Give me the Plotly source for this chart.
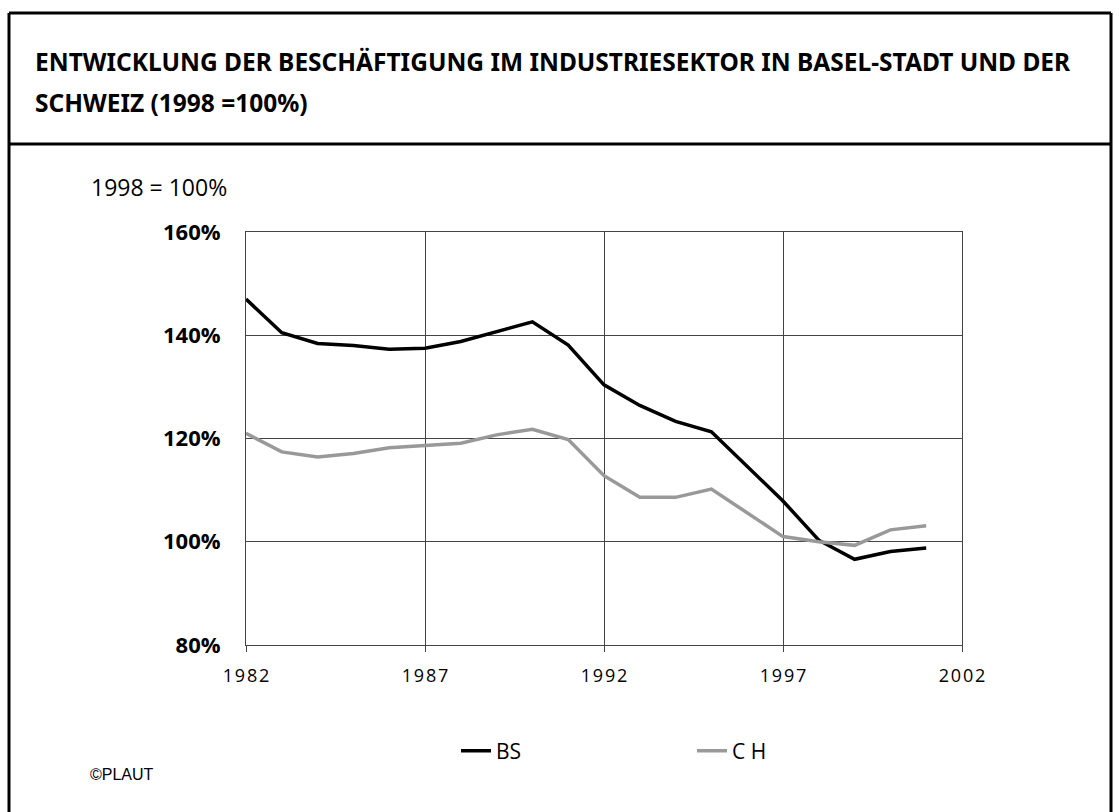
import plotly.graph_objects as go

years = list(range(1982, 2002))
bs = [147.0, 140.5, 138.4, 138.0, 137.3, 137.5, 138.8, 140.7, 142.6, 138.1,
      130.4, 126.4, 123.3, 121.3, 114.7, 107.9, 100.3, 96.6, 98.1, 98.8]
ch = [121.0, 117.4, 116.4, 117.1, 118.2, 118.6, 119.1, 120.7, 121.8, 119.8,
      112.8, 108.6, 108.6, 110.2, 105.5, 101.0, 100.0, 99.3, 102.3, 103.1]
series_names = ["BS", "C H"]
y_ticks = [80, 100, 120, 140, 160]
y_tick_labels = ["80%", "100%", "120%", "140%", "160%"]
x_ticks = [1982, 1987, 1992, 1997, 2002]

W, H = 1119, 812
L, R, T, B = 246, 962, 232, 645

def px(x):
    return (x - L) / (R - L)

def py(y):
    return (B - y) / (B - T)

fig = go.Figure()
fig.add_trace(go.Scatter(x=years, y=bs, mode="lines", name=series_names[0],
                         line=dict(color="#000000", width=3.5)))
fig.add_trace(go.Scatter(x=years, y=ch, mode="lines", name=series_names[1],
                         line=dict(color="#999999", width=3.5)))

axis_font = "Open Sans, Noto Sans, sans-serif"
fig.update_layout(
    width=W, height=H,
    margin=dict(l=L, r=W - R, t=T, b=H - B, pad=0),
    paper_bgcolor="white", plot_bgcolor="white",
    showlegend=True,
    legend=dict(orientation="h", x=px(456), xanchor="left", y=py(751), yanchor="middle",
                entrywidth=191, entrywidthmode="pixels",
                font=dict(family=axis_font, size=21, color="#000"),
                itemwidth=30, bgcolor="rgba(0,0,0,0)"),
    xaxis=dict(range=[1982, 2002], tickvals=x_ticks,
               ticktext=["\u200a".join(str(v)) for v in x_ticks],
               showgrid=True, gridcolor="#444", gridwidth=1,
               showline=True, linecolor="#444", linewidth=1, mirror=True,
               ticks="outside", ticklen=6, tickcolor="#444", ticklabelstandoff=8,
               tickfont=dict(family=axis_font, size=18, color="#000"), zeroline=False),
    yaxis=dict(range=[80, 160], tickvals=y_ticks, ticktext=y_tick_labels,
               showgrid=True, gridcolor="#444", gridwidth=1,
               showline=True, linecolor="#444", linewidth=1, mirror=True,
               ticks="", ticklabelstandoff=20,
               tickfont=dict(family=axis_font, size=22, color="#000", weight="bold"),
               zeroline=False),
)

title_font = dict(family="Noto Sans, sans-serif", size=24.5, color="#000", weight="bold")
annos = [
    dict(text="ENTWICKLUNG DER BESCHÄFTIGUNG IM INDUSTRIESEKTOR IN BASEL-STADT UND DER",
         x=px(33), y=py(62), font=title_font),
    dict(text="SCHWEIZ (1998 =100%)", x=px(33), y=py(102), font=title_font),
    dict(text="1998 = 100%", x=px(89), y=py(187),
         font=dict(family=axis_font, size=23, color="#000")),
    dict(text="©PLAUT", x=px(88), y=py(774),
         font=dict(family="Liberation Sans, Arial, sans-serif", size=16, color="#000")),
]
for a in annos:
    fig.add_annotation(xref="paper", yref="paper", xanchor="left", yanchor="middle",
                       showarrow=False, **a)

frame = dict(color="#000", width=3)
x0, x1 = px(9), px(1111)
y_top, y_sep, y_bot = py(13), py(144), py(830)
fig.add_shape(type="line", xref="paper", yref="paper", x0=x0, x1=x1, y0=y_top, y1=y_top, line=frame)
fig.add_shape(type="line", xref="paper", yref="paper", x0=x0, x1=x1, y0=y_sep, y1=y_sep, line=frame)
fig.add_shape(type="line", xref="paper", yref="paper", x0=x0, x1=x0, y0=y_top, y1=y_bot, line=frame)
fig.add_shape(type="line", xref="paper", yref="paper", x0=x1, x1=x1, y0=y_top, y1=y_bot, line=frame)

fig.write_html("out.html", config={"displayModeBar": False},
               post_script="document.body.style.margin='0px';")
